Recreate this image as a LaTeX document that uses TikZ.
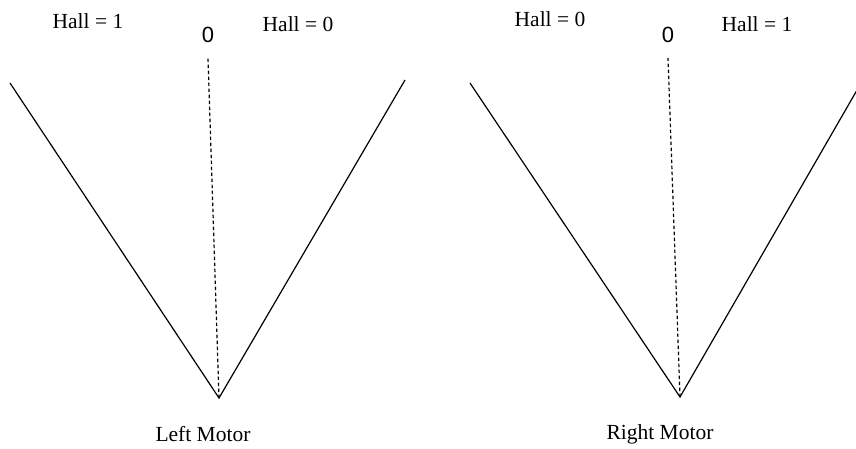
\documentclass[tikz,border=0pt]{standalone}
\usepackage{fontspec}
\setmainfont{Liberation Serif}
\newfontfamily\zerofont{Liberation Sans}
\begin{document}
\begin{tikzpicture}[x=1pt,y=-1pt,
  arm/.style={line width=1.2pt, black},
  axis/.style={line width=1.2pt, dash pattern=on 3.5pt off 2.5pt},
  lbl/.style={font=\fontsize{21.5}{24}\selectfont, inner sep=0pt},
  zlbl/.style={font=\zerofont\fontsize{22}{24}\selectfont, inner sep=0pt}]
\useasboundingbox (0,0) rectangle (856,448);
\clip (0,0) rectangle (856,448);
% Left motor
\coordinate (lv) at (219,398);
\coordinate (la) at (10,83);
\coordinate (lb) at (405,80);
\coordinate (lz) at (208,58);
\draw[arm] (la) -- (lv) -- (lb);
\draw[axis] (lv) -- (lz);
\node[zlbl] (l0) at (208,35) {0};
\node[lbl] (lh1) at (88,21) {Hall = 1};
\node[lbl] (lh0) at (298,24) {Hall = 0};
\node[lbl] (lm) at (203,434) {Left Motor};
% Right motor
\coordinate (rv) at (680,397);
\coordinate (ra) at (470,83);
\coordinate (rb) at (868,71);
\coordinate (rz) at (668,58);
\draw[arm] (ra) -- (rv) -- (rb);
\draw[axis] (rv) -- (rz);
\node[zlbl] (r0) at (668,35) {0};
\node[lbl] (rh0) at (550,19) {Hall = 0};
\node[lbl] (rh1) at (757,24) {Hall = 1};
\node[lbl] (rm) at (660,434) {Right Motor};
\end{tikzpicture}
\end{document}
